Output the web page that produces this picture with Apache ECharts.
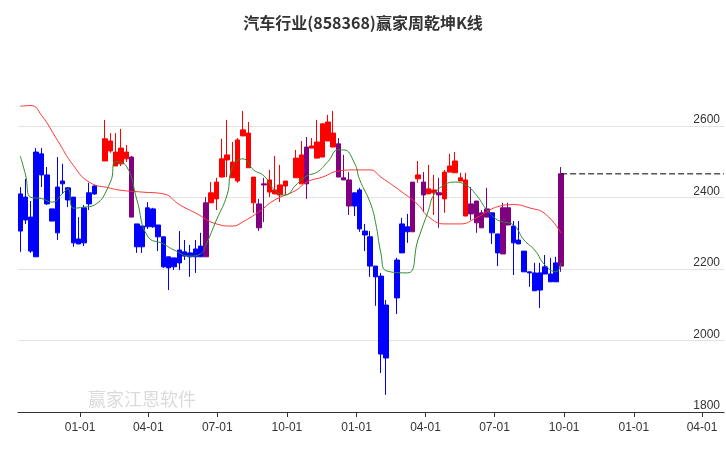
<!DOCTYPE html>
<html><head><meta charset="utf-8">
<script src="https://cdn.jsdelivr.net/npm/echarts@6/dist/echarts.min.js"></script>
<style>html,body{margin:0;padding:0;background:#fff}#c{width:726px;height:450px}</style>
</head><body><div id="c"></div>
<script>
// weekly bars (Fridays), holiday weeks absent
const firstWeek = '2022-10-14';
const skippedWeeks = ['2023-01-27', '2023-10-06', '2024-02-16'];
const opens = [2410,2401,2345,2527,2522,2463,2368,2429,2446,2427,2401,2284,2371,2413,2432,
 2502,2530,2488,2494,2508,2513,2326,2320,2371,2368,2323,2290,2234,2231,2253,
 2248,2245,2256,2264,2234,2385,2396,2457,2505,2455,2446,2572,2483,2385,2382,
 2438,2415,2410,2407,2432,2455,2438,2541,2538,2510,2513,2558,2541,2550,2455,
 2449,2413,2421,2306,2290,2208,2180,2099,2225,2326,2318,2304,2452,2443,2410,
 2413,2413,2396,2471,2469,2455,2449,2382,2390,2357,2368,2357,2298,2371,2371,
 2320,2281,2250,2192,2189,2189,2206,2186,2217,2208];
const closes = [2306,2337,2250,2234,2463,2382,2334,2301,2438,2393,2273,2270,2273,2382,2410,
 2564,2558,2527,2538,2527,2345,2262,2262,2318,2318,2290,2206,2203,2206,2217,
 2236,2234,2234,2234,2385,2413,2443,2508,2519,2499,2561,2589,2580,2457,2315,
 2435,2449,2421,2435,2446,2510,2519,2438,2544,2555,2606,2611,2580,2457,2449,
 2376,2376,2312,2295,2208,2178,1962,1951,2119,2245,2304,2443,2463,2407,2424,
 2421,2407,2471,2488,2502,2446,2348,2354,2329,2315,2345,2301,2245,2242,2323,
 2273,2270,2192,2189,2139,2141,2186,2164,2164,2466];
const highs = [2429,2452,2390,2538,2538,2485,2368,2513,2494,2429,2401,2345,2379,2441,2435,
 2617,2580,2580,2592,2547,2516,2326,2320,2387,2371,2323,2290,2234,2231,2306,
 2281,2267,2281,2301,2401,2443,2455,2564,2617,2555,2566,2642,2611,2457,2396,
 2455,2477,2516,2491,2446,2533,2558,2569,2566,2617,2606,2631,2642,2566,2519,
 2471,2413,2427,2326,2306,2208,2189,2113,2231,2343,2354,2443,2502,2471,2491,
 2463,2455,2477,2522,2527,2469,2469,2429,2390,2365,2427,2357,2298,2385,2385,
 2334,2334,2250,2192,2217,2217,2239,2231,2234,2485];
const lows = [2248,2326,2245,2234,2429,2379,2334,2281,2410,2373,2262,2270,2264,2365,2407,
 2502,2525,2488,2488,2499,2345,2245,2245,2312,2315,2250,2203,2141,2197,2197,
 2225,2178,2189,2234,2234,2385,2365,2457,2457,2455,2441,2572,2483,2357,2306,
 2331,2401,2410,2387,2407,2455,2438,2396,2538,2510,2513,2558,2541,2457,2449,
 2351,2348,2304,2250,2178,2097,1909,1848,2074,2245,2273,2304,2441,2359,2410,
 2351,2315,2357,2471,2469,2446,2348,2337,2301,2315,2345,2270,2208,2242,2323,
 2183,2270,2192,2150,2139,2091,2186,2164,2164,2192];
// R = red regime, B = blue regime, P = purple transition (groups of bars in order)
const signalGroups = ['B15','R5','P1','B13','P1','R9','P2','R6','P1','R5','P3','B10','P1','R1','P1','R2','P1','R5','P4','B2','P2','B9','P1'];
// moving averages: [bar index, value]
const maShort = [[0,2516],[1,2463],[2,2400],[4,2397],[6,2387],[8,2412],[9,2424],[10,2370],[12,2373],[14,2379],
 [16,2443],[17,2500],[19,2488],[21,2393],[23,2292],[26,2270],[28,2253],[31,2236],[33,2242],[34,2267],
 [36,2337],[38,2407],[39,2483],[41,2508],[43,2477],[45,2460],[47,2420],[49,2407],[50,2435],[52,2460],
 [54,2471],[56,2500],[58,2533],[59,2533],[61,2497],[62,2450],[64,2385],[65,2330],[66,2245],[67,2195],
 [70,2189],[72,2281],[74,2365],[75,2407],[77,2435],[79,2443],[81,2435],[83,2407],[85,2365],[87,2337],
 [88,2332],[90,2323],[92,2281],[94,2253],[96,2210],[98,2192],[99,2217]];
const maLong = [[0,2655],[2,2657],[4,2630],[7,2560],[10,2490],[13,2443],[16,2426],[18,2420],[22,2415],[26,2410],
 [29,2380],[32,2357],[36,2326],[39,2320],[41,2332],[44,2360],[47,2393],[50,2420],[52,2443],[55,2457],
 [58,2474],[61,2477],[64,2477],[66,2457],[69,2415],[72,2380],[74,2346],[77,2326],[80,2326],[83,2343],
 [85,2360],[87,2374],[90,2380],[93,2371],[96,2354],[99,2300]];
const yTicks = [1800, 2000, 2200, 2400, 2600];
const title = '汽车行业(858368)赢家周乾坤K线';

const DAY = 86400000;
const signals = signalGroups.map(g => g[0].repeat(+g.slice(1))).join('');
const dates = [];
let t = new Date(firstWeek + 'T00:00:00').getTime();
while (dates.length < opens.length) {
  const d = new Date(t);
  const s = d.getFullYear() + '-' + String(d.getMonth()+1).padStart(2,'0') + '-' + String(d.getDate()).padStart(2,'0');
  if (!skippedWeeks.includes(s)) dates.push(t);
  t += 7 * DAY;
}
const colorMap = {R: '#ff0000', B: '#0000ff', P: '#800080'};
const kData = opens.map((o, i) => {
  const c = colorMap[signals[i]] || '#800080';
  return {value: [dates[i], o, closes[i], lows[i], highs[i]],
    itemStyle: {color: c, color0: c, borderColor: c, borderColor0: c}};
});
const xMin = new Date('2022-10-11T00:00:00').getTime();
const xMax = new Date('2025-04-30T00:00:00').getTime();
const last = closes[closes.length - 1];

const chart = echarts.init(document.getElementById('c'));
chart.setOption({
  animation: false,
  title: {text: title, left: 'center', top: 10,
    textStyle: {fontSize: 16, fontWeight: 'bold', color: '#333', fontFamily: 'Noto Sans CJK SC'}},
  graphic: [{type: 'text', left: 88, top: 390, style: {text: '赢家江恩软件', fontSize: 18, fill: 'rgba(150,150,150,0.35)', fontFamily: 'Noto Sans CJK SC'}}],
  grid: {left: 18, right: 2, top: 58, bottom: 38},
  xAxis: {type: 'time', min: xMin, max: xMax,
    minInterval: 85 * DAY, maxInterval: 95 * DAY, splitNumber: 10,
    axisLine: {lineStyle: {color: '#333'}},
    axisTick: {show: true, length: 5, lineStyle: {color: '#333'}},
    splitLine: {show: false},
    axisLabel: {color: '#333', fontSize: 12, fontFamily: 'Liberation Sans', margin: 10,
      formatter: v => echarts.time.format(v, '{MM}-{dd}', false), showMinLabel: false}},
  yAxis: {type: 'value', position: 'right', min: yTicks[0], max: 2790, interval: 200,
    axisLine: {show: false}, axisTick: {show: false},
    splitLine: {showMaxLine: false, lineStyle: {color: '#e3e3e3'}},
    axisLabel: {inside: true, verticalAlign: 'bottom', margin: 4, color: '#333', fontSize: 12, fontFamily: 'Liberation Sans',
      showMaxLabel: false, formatter: v => yTicks.includes(v) ? String(v) : ''}},
  series: [
    {type: 'candlestick', data: kData, barWidth: 5},
    {type: 'line', data: maLong.map(p => [dates[p[0]], p[1]]), smooth: true, symbol: 'none',
      lineStyle: {color: '#ff3333', width: 1}},
    {type: 'line', data: maShort.map(p => [dates[p[0]], p[1]]), smooth: true, symbol: 'none',
      lineStyle: {color: '#2e8b2e', width: 1}},
    {type: 'line', data: [[dates[dates.length - 1], last], [xMax, last]], symbol: 'none',
      lineStyle: {color: '#000', width: 1, type: [6, 3]}}
  ]
});
</script></body></html>
